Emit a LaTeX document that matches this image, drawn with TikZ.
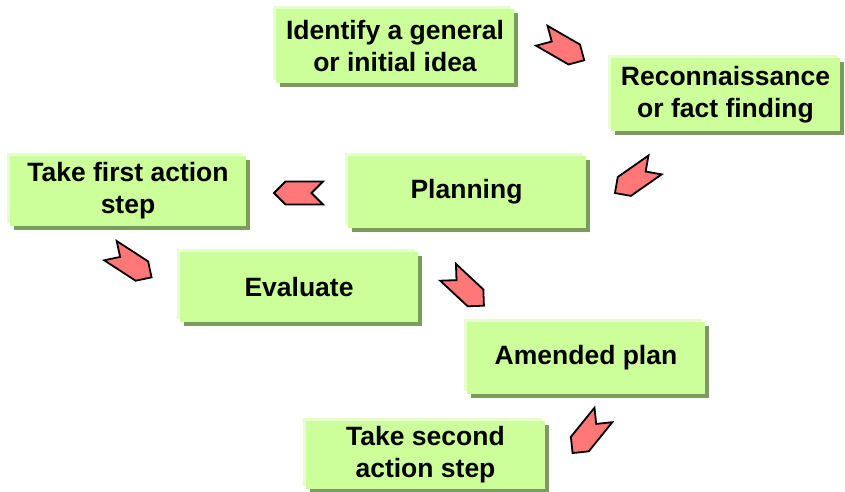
\documentclass[tikz,border=0pt]{standalone}
\usepackage{fontspec}
\setmainfont{Liberation Sans}
\usetikzlibrary{shapes.symbols,shadows}
\definecolor{boxgreen}{HTML}{CCFF99}
\definecolor{boxlight}{HTML}{E6FFCC}
\definecolor{boxshadow}{HTML}{7D9B5E}
\definecolor{turnred}{HTML}{FF7777}
\tikzset{
	stepbox/.style={fill=boxgreen, minimum width=238pt, minimum height=72pt, inner sep=0pt, align=center,
		font=\fontsize{26.5}{32}\selectfont\bfseries,
		general shadow={shadow xshift=4pt, shadow yshift=-4pt, fill=boxshadow},
		general shadow={shadow xshift=-3pt, shadow yshift=3pt, fill=boxlight}},
	turn/.style={signal, signal to=east, signal from=west, fill=turnred, draw=black, line width=1.8pt,
		minimum width=49pt, minimum height=23pt, inner sep=0pt}
}
\begin{document}
\begin{tikzpicture}[x=1pt,y=-1pt]
			\useasboundingbox (0,0) rectangle (845,492);
			%steps
			\node[stepbox, minimum height=74pt] (idea) at (395,46) {Identify a general\\or initial idea};
			\node[stepbox, minimum width=229pt, minimum height=73pt] (recon) at (725.5,94.5) {Reconnaissance\\or fact finding};
			\node[stepbox] (plan) at (466.5,192) {Planning};
			\node[stepbox, minimum width=236pt, minimum height=70pt] (first) at (128,191) {Take first action\\step};
			\node[stepbox, minimum height=70pt] (eval) at (299,287) {Evaluate};
			\node[stepbox] (amend) at (586,358) {Amended plan};
			\node[stepbox, minimum width=239pt, minimum height=68pt] (second) at (425.5,455) {Take second\\action step};
			%turns
			\node[turn, rotate=-30] (t1) at (563,48) {};
			\node[turn, rotate=-145] (t2) at (635,179) {};
			\node[turn, rotate=180] (t3) at (298.5,193) {};
			\node[turn, rotate=-33] (t4) at (131,264) {};
			\node[turn, rotate=-43] (t5) at (466,289) {};
			\node[turn, rotate=-129] (t6) at (588,434) {};
		\end{tikzpicture}
\end{document}
